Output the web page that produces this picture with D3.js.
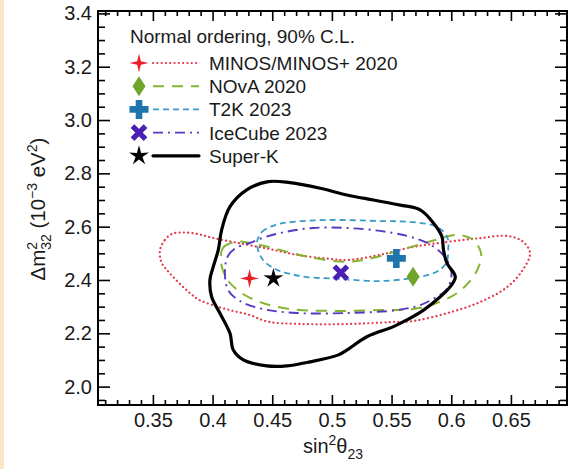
<!DOCTYPE html>
<html>
<head>
<meta charset="utf-8">
<script src="https://cdn.jsdelivr.net/npm/d3@7"></script>
<style>
  html, body { margin: 0; padding: 0; background: #ffffff; }
  svg { display: block; }
  text { font-family: "Liberation Sans", Arial, Helvetica, sans-serif; fill: #1a1a1a; }
</style>
</head>
<body>
<script>
// ---------- data ----------
const xMajorTicks = [0.35, 0.40, 0.45, 0.50, 0.55, 0.60, 0.65];
const xTickLabels = ["0.35", "0.4", "0.45", "0.5", "0.55", "0.6", "0.65"];
const yMajorTicks = [2.0, 2.2, 2.4, 2.6, 2.8, 3.0, 3.2, 3.4];
const yTickLabels = ["2.0", "2.2", "2.4", "2.6", "2.8", "3.0", "3.2", "3.4"];

const legendTitle = "Normal ordering, 90% C.L.";
const seriesNames = ["MINOS/MINOS+ 2020", "NOvA 2020", "T2K 2023", "IceCube 2023", "Super-K"];

// best-fit points [sin^2 theta23, dm2_32]
const bestMINOS = [0.431, 2.406];
const bestNOvA = [0.568, 2.412];
const bestT2K = [0.554, 2.481];
const bestIceCube = [0.5075, 2.427];
const bestSK = [0.451, 2.406];

// 90% C.L. contours
const contourMINOS = [[0.356,2.513],[0.360,2.550],[0.366,2.573],[0.375,2.578],[0.387,2.573],[0.400,2.558],[0.426,2.535],[0.448,2.516],[0.471,2.494],[0.499,2.479],[0.513,2.475],[0.540,2.494],[0.568,2.524],[0.597,2.543],[0.624,2.557],[0.647,2.565],[0.660,2.544],[0.666,2.501],[0.660,2.438],[0.647,2.374],[0.624,2.317],[0.597,2.276],[0.568,2.246],[0.549,2.242],[0.515,2.235],[0.473,2.235],[0.446,2.244],[0.431,2.269],[0.417,2.284],[0.404,2.300],[0.389,2.325],[0.381,2.351],[0.364,2.426],[0.357,2.468]];
const contourNOvA = [[0.4070,2.468],[0.4087,2.520],[0.4188,2.543],[0.4314,2.539],[0.4565,2.513],[0.4842,2.483],[0.5128,2.468],[0.5346,2.483],[0.5631,2.520],[0.5866,2.550],[0.6050,2.569],[0.6185,2.550],[0.6252,2.494],[0.6218,2.438],[0.6143,2.389],[0.6050,2.351],[0.5883,2.314],[0.5681,2.291],[0.5404,2.287],[0.4985,2.284],[0.4649,2.291],[0.4398,2.317],[0.4230,2.355],[0.4120,2.404]];
const contourT2K = [[0.4372,2.539],[0.4414,2.580],[0.4523,2.606],[0.4674,2.618],[0.4985,2.625],[0.5404,2.621],[0.5681,2.617],[0.5883,2.599],[0.5966,2.561],[0.5975,2.513],[0.5958,2.464],[0.5874,2.430],[0.5681,2.408],[0.5404,2.396],[0.5069,2.404],[0.4792,2.411],[0.4649,2.423],[0.4540,2.438],[0.4423,2.475]];
const contourIceCube = [[0.4104,2.438],[0.4129,2.490],[0.4196,2.520],[0.4314,2.539],[0.4440,2.561],[0.4607,2.580],[0.4842,2.595],[0.5128,2.595],[0.5404,2.584],[0.5631,2.565],[0.5799,2.539],[0.5924,2.498],[0.5992,2.449],[0.6000,2.408],[0.5958,2.363],[0.5874,2.336],[0.5740,2.306],[0.5547,2.287],[0.5128,2.276],[0.4708,2.276],[0.4423,2.291],[0.4230,2.321],[0.4129,2.363]];
const contourSK = [[0.4467,2.769],[0.4649,2.765],[0.4901,2.744],[0.5125,2.719],[0.5348,2.700],[0.5572,2.681],[0.5740,2.663],[0.5852,2.613],[0.5922,2.563],[0.5935,2.513],[0.5964,2.463],[0.6034,2.412],[0.5992,2.375],[0.5908,2.337],[0.5768,2.287],[0.5628,2.250],[0.5516,2.225],[0.5293,2.187],[0.5125,2.137],[0.5055,2.119],[0.4817,2.093],[0.4622,2.078],[0.4454,2.078],[0.4258,2.100],[0.4174,2.137],[0.4146,2.200],[0.4062,2.275],[0.3992,2.337],[0.3978,2.400],[0.4006,2.450],[0.4048,2.513],[0.4076,2.588],[0.4146,2.675],[0.4286,2.738]];

// ---------- layout ----------
const W = 578, H = 469;
const frame = { left: 98, right: 567, top: 11, bottom: 405 };
const FONT = 19;
const TICKFONT = 20;

const svg = d3.select("body").append("svg").attr("width", W).attr("height", H);
svg.append("rect").attr("width", W).attr("height", H).attr("fill", "#ffffff");
svg.append("rect").attr("x", 0).attr("y", 0).attr("width", 4).attr("height", H).attr("fill", "#fbe4c8");

const x = d3.scaleLinear().domain([0.304, 0.697]).range([frame.left, frame.right]);
const y = d3.scaleLinear().domain([1.931, 3.409]).range([frame.bottom, frame.top]);

const styles = {
  minos: { stroke: "#e2384a", width: 2.2, dash: "0.1,4.2", cap: "round", marker: "#e8202a" },
  nova:  { stroke: "#86b330", width: 2.0, dash: "11,8", cap: "butt", marker: "#6ea52a" },
  t2k:   { stroke: "#3a9cc6", width: 1.8, dash: "6,4", cap: "butt", marker: "#1f74ab" },
  ice:   { stroke: "#5737c4", width: 1.9, dash: "10,5,2,5", cap: "butt", marker: "#4b1fb4" },
  sk:    { stroke: "#000000", width: 3.2, dash: null, cap: "round", marker: "#000000" }
};

// ---------- contours ----------
const line = d3.line().x(d => x(d[0])).y(d => y(d[1])).curve(d3.curveCatmullRomClosed.alpha(0.5));
const plot = svg.append("g");
function drawContour(data, st) {
  const p = plot.append("path").attr("d", line(data))
    .attr("fill", "none").attr("stroke", st.stroke).attr("stroke-width", st.width)
    .attr("stroke-linecap", st.cap).attr("stroke-linejoin", "round");
  if (st.dash) p.attr("stroke-dasharray", st.dash);
}
drawContour(contourMINOS, styles.minos);
drawContour(contourNOvA, styles.nova);
drawContour(contourT2K, styles.t2k);
drawContour(contourIceCube, styles.ice);
drawContour(contourSK, styles.sk);

// ---------- markers ----------
function starPath(n, R, r) {
  let s = "";
  for (let i = 0; i < 2 * n; i++) {
    const a = -Math.PI / 2 + i * Math.PI / n;
    const rr = i % 2 === 0 ? R : r;
    s += (i === 0 ? "M" : "L") + (rr * Math.cos(a)).toFixed(2) + "," + (rr * Math.sin(a)).toFixed(2);
  }
  return s + "Z";
}
function drawMarker(g, kind, cx, cy) {
  const t = g.append("g").attr("transform", `translate(${cx},${cy})`);
  if (kind === "minos") {
    t.append("path").attr("d", starPath(4, 9.5, 2.6)).attr("fill", styles.minos.marker);
  } else if (kind === "nova") {
    t.append("path").attr("d", "M0,-10L6.5,0L0,10L-6.5,0Z").attr("fill", styles.nova.marker);
  } else if (kind === "t2k") {
    t.append("path").attr("d", "M-3.3,-9.5H3.3V-3.3H9.5V3.3H3.3V9.5H-3.3V3.3H-9.5V-3.3H-3.3Z").attr("fill", styles.t2k.marker);
  } else if (kind === "ice") {
    t.append("path").attr("d", "M-6.5,-6.5L6.5,6.5M6.5,-6.5L-6.5,6.5")
      .attr("stroke", styles.ice.marker).attr("stroke-width", 5.2).attr("stroke-linecap", "butt");
  } else if (kind === "sk") {
    t.append("path").attr("d", starPath(5, 10.5, 3.6)).attr("fill", styles.sk.marker);
  }
}
drawMarker(plot, "minos", x(bestMINOS[0]), y(bestMINOS[1]));
drawMarker(plot, "nova", x(bestNOvA[0]), y(bestNOvA[1]));
drawMarker(plot, "t2k", x(bestT2K[0]), y(bestT2K[1]));
drawMarker(plot, "ice", x(bestIceCube[0]), y(bestIceCube[1]));
drawMarker(plot, "sk", x(bestSK[0]), y(bestSK[1]));

// ---------- axes ----------
const xMinor = d3.range(31, 70).map(v => v / 100).filter(v => Math.round(v * 100) % 5 !== 0);
const yMinor = d3.range(39, 69).map(v => v * 0.05).filter(v => Math.round(v * 20) % 4 !== 0 && v > 1.931 && v < 3.409);

function styleAxis(g) {
  g.select(".domain").remove();
  g.selectAll(".tick line").attr("stroke", "#000").attr("stroke-width", 1.6);
  g.selectAll(".tick text").style("font-size", TICKFONT + "px").attr("fill", "#1a1a1a");
}
// bottom
svg.append("g").attr("transform", `translate(0,${frame.bottom})`)
  .call(d3.axisBottom(x).tickValues(xMajorTicks).tickSize(-10).tickPadding(8)
    .tickFormat((d, i) => xTickLabels[i])).call(styleAxis);
svg.append("g").attr("transform", `translate(0,${frame.bottom})`)
  .call(d3.axisBottom(x).tickValues(xMinor).tickSize(-5).tickFormat("")).call(styleAxis);
// top
svg.append("g").attr("transform", `translate(0,${frame.top})`)
  .call(d3.axisTop(x).tickValues(xMajorTicks).tickSize(-10).tickFormat("")).call(styleAxis);
svg.append("g").attr("transform", `translate(0,${frame.top})`)
  .call(d3.axisTop(x).tickValues(xMinor).tickSize(-5).tickFormat("")).call(styleAxis);
// left
svg.append("g").attr("transform", `translate(${frame.left},0)`)
  .call(d3.axisLeft(y).tickValues(yMajorTicks).tickSize(-12).tickPadding(6)
    .tickFormat((d, i) => yTickLabels[i])).call(styleAxis);
svg.append("g").attr("transform", `translate(${frame.left},0)`)
  .call(d3.axisLeft(y).tickValues(yMinor).tickSize(-7).tickFormat("")).call(styleAxis);
// right
svg.append("g").attr("transform", `translate(${frame.right},0)`)
  .call(d3.axisRight(y).tickValues(yMajorTicks).tickSize(-12).tickFormat("")).call(styleAxis);
svg.append("g").attr("transform", `translate(${frame.right},0)`)
  .call(d3.axisRight(y).tickValues(yMinor).tickSize(-7).tickFormat("")).call(styleAxis);

// frame
svg.append("rect").attr("x", frame.left).attr("y", frame.top)
  .attr("width", frame.right - frame.left).attr("height", frame.bottom - frame.top)
  .attr("fill", "none").attr("stroke", "#000").attr("stroke-width", 2);

// ---------- axis titles ----------
const xt = svg.append("text").attr("x", 333).attr("y", 453).attr("text-anchor", "middle")
  .style("font-size", "20px");
xt.append("tspan").text("sin");
xt.append("tspan").attr("dy", -8).style("font-size", "14px").text("2");
xt.append("tspan").attr("dy", 8).text("θ");
xt.append("tspan").attr("dy", 6).style("font-size", "14px").text("23");

const yt = svg.append("text").attr("transform", "translate(45,209) rotate(-90)")
  .attr("text-anchor", "middle").style("font-size", "20.5px");
yt.append("tspan").text("Δm");
yt.append("tspan").attr("dy", -8).style("font-size", "14px").text("2");
yt.append("tspan").attr("dx", -8).attr("dy", 14).style("font-size", "14px").text("32");
yt.append("tspan").attr("dy", -6).text(" (10");
yt.append("tspan").attr("dy", -8).style("font-size", "14px").text("−3");
yt.append("tspan").attr("dy", 8).text(" eV");
yt.append("tspan").attr("dy", -8).style("font-size", "14px").text("2");
yt.append("tspan").attr("dy", 8).text(")");

// ---------- legend ----------
const leg = svg.append("g");
leg.append("text").attr("x", 130).attr("y", 43).style("font-size", FONT + "px").text(legendTitle);
const legKinds = ["minos", "nova", "t2k", "ice", "sk"];
legKinds.forEach((k, i) => {
  const cy = 63 + 23.2 * i;
  const st = styles[k];
  const l = leg.append("line").attr("x1", 153).attr("x2", 199).attr("y1", cy).attr("y2", cy)
    .attr("stroke", st.stroke).attr("stroke-width", st.width).attr("stroke-linecap", st.cap);
  if (st.dash) l.attr("stroke-dasharray", st.dash);
  drawMarker(leg, k, 139, cy);
  leg.append("text").attr("x", 209).attr("y", cy + 7).style("font-size", FONT + "px").text(seriesNames[i]);
});
</script>
</body>
</html>
